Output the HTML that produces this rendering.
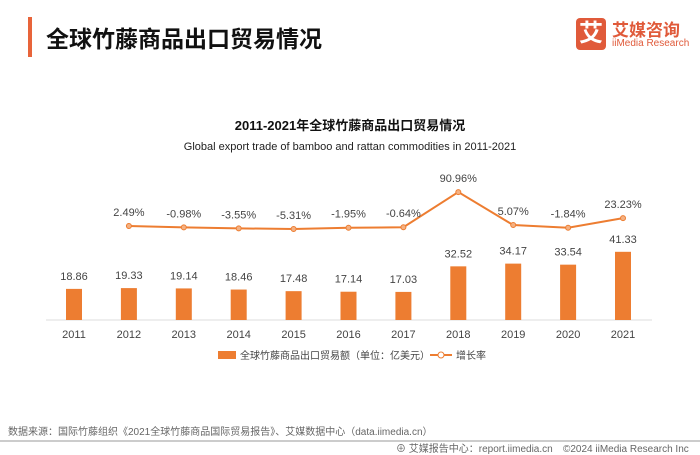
<!DOCTYPE html>
<html><head><meta charset="utf-8"><style>
body{margin:0;width:700px;height:455px;background:#fff;font-family:"Liberation Sans","Noto Sans CJK SC",sans-serif;position:relative;overflow:hidden}
.a{position:absolute;white-space:nowrap}
</style></head><body>
<div class="a" style="left:28px;top:17px;width:4px;height:40px;background:#e8643a"></div>
<div class="a" style="left:46px;top:20px;font-size:23px;font-weight:bold;color:#111">全球竹藤商品出口贸易情况</div>
<div class="a" style="left:576px;top:18px;width:30px;height:32px;background:#e05a3a;border-radius:4px;color:#fff;font-size:24px;font-weight:bold;text-align:center;line-height:32px">艾</div>
<div class="a" style="left:612px;top:16px;font-size:17px;font-weight:bold;color:#e05a3a">艾媒咨询</div>
<div class="a" style="left:612px;top:38px;font-size:10px;color:#e05a3a">iiMedia Research</div>
<svg class="a" style="left:0;top:0" width="700" height="455">
<text x="350" y="130" text-anchor="middle" font-size="13" font-weight="bold" fill="#111">2011-2021年全球竹藤商品出口贸易情况</text>
<text x="350" y="150" text-anchor="middle" font-size="11" fill="#222">Global export trade of bamboo and rattan commodities in 2011-2021</text>
<line x1="46" y1="320" x2="652" y2="320" stroke="#ddd"/>
<g id="g"></g>
<rect x="218" y="351" width="18" height="8" fill="#ed7d31"/>
<text x="240" y="359" font-size="10" fill="#444">全球竹藤商品出口贸易额（单位：亿美元）</text>
<line x1="430" y1="355" x2="452" y2="355" stroke="#ed7d31" stroke-width="2"/>
<circle cx="441" cy="355" r="3" fill="#fff" stroke="#ed7d31"/>
<text x="456" y="359" font-size="10" fill="#444">增长率</text>
<text x="8" y="435" font-size="10" fill="#666">数据来源：国际竹藤组织《2021全球竹藤商品国际贸易报告》、艾媒数据中心（data.iimedia.cn）</text>
<line x1="0" y1="441" x2="700" y2="441" stroke="#999"/>
<text x="396" y="452" font-size="10" fill="#666">⊕ 艾媒报告中心：report.iimedia.cn</text>
<text x="563" y="452" font-size="10" fill="#666">©2024  iiMedia Research Inc</text>
</svg>
<script>
const years=["2011","2012","2013","2014","2015","2016","2017","2018","2019","2020","2021"];
const values=[18.86,19.33,19.14,18.46,17.48,17.14,17.03,32.52,34.17,33.54,41.33];
const growth=[null,2.49,-0.98,-3.55,-5.31,-1.95,-0.64,90.96,5.07,-1.84,23.23];
const growthLabels=[null,"2.49%","-0.98%","-3.55%","-5.31%","-1.95%","-0.64%","90.96%","5.07%","-1.84%","23.23%"];
const NS="http://www.w3.org/2000/svg",g=document.getElementById('g');
const x=i=>74+i*54.9, yb=v=>320-v*1.65, yl=v=>227-v*0.384;
function mk(t,a){const e=document.createElementNS(NS,t);for(const k in a)e.setAttribute(k,a[k]);g.appendChild(e);return e;}
years.forEach((yr,i)=>{
 const r=mk('rect',{x:x(i)-8,y:yb(values[i]),width:16,height:320-yb(values[i]),fill:'#ed7d31'});
 
 
 const t=mk('text',{x:x(i),y:yb(values[i])-9,'text-anchor':'middle','font-size':11,fill:'#444'});t.textContent=values[i].toFixed(2);
 
 
 const l=mk('text',{x:x(i),y:338,'text-anchor':'middle','font-size':11,fill:'#444'});l.textContent=yr;
 
 
});
let pts=[];growth.forEach((v,i)=>{if(v!==null)pts.push(x(i)+','+yl(v));});
const pl=mk('polyline',{points:pts.join(' '),fill:'none',stroke:'#ed7d31','stroke-width':2});


growth.forEach((v,i)=>{if(v===null)return;
 const c=mk('circle',{cx:x(i),cy:yl(v),r:2.5,fill:'#f4b183',stroke:'#ed7d31'});
 
 
 const t=mk('text',{x:x(i),y:yl(v)-10,'text-anchor':'middle','font-size':11,fill:'#444'});t.textContent=growthLabels[i];
 
 
});
</script>
</body></html>
